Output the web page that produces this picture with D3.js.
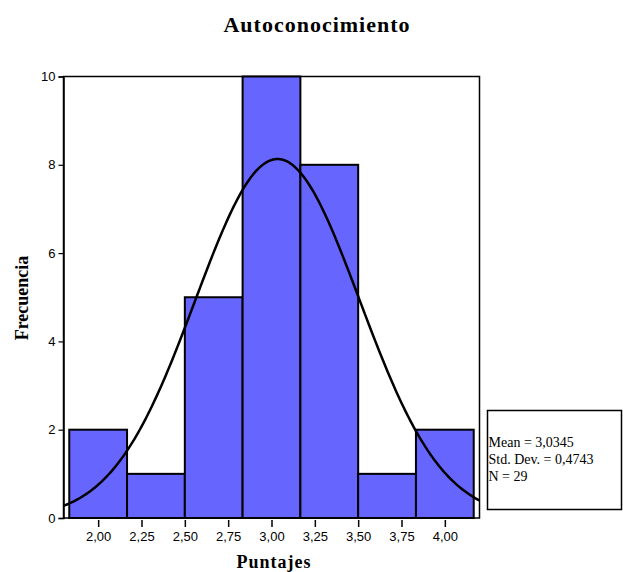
<!DOCTYPE html>
<html>
<head>
<meta charset="utf-8">
<script src="https://cdn.jsdelivr.net/npm/d3@7"></script>
<style>
  body { margin: 0; background: #fff; }
  svg { display: block; }
</style>
</head>
<body>
<div id="chart"></div>
<script>
// histogram data
var binStart = [1.8333, 2.1667, 2.5, 2.8333, 3.1667, 3.5, 3.8333];
var binWidth = 1 / 3;
var counts = [2, 1, 5, 10, 8, 1, 2];
var xTicks = [2.0, 2.25, 2.5, 2.75, 3.0, 3.25, 3.5, 3.75, 4.0];
var yTicks = [0, 2, 4, 6, 8, 10];
var statLines = ["Mean = 3,0345", "Std. Dev. = 0,4743", "N = 29"];
var mean = 3.0345, sd = 0.4743, n = 29;

var width = 623, height = 572;
var plotLeft = 63.5, plotRight = 479.5, plotTop = 76.5, plotBottom = 518;

var locale = d3.formatLocale({decimal: ",", thousands: ".", grouping: [3], currency: ["", ""]});
var fmt = locale.format(".2f");

var svg = d3.select("#chart").append("svg")
    .attr("width", width)
    .attr("height", height);

var xScale = d3.scaleLinear().domain([1.8, 4.2]).range([plotLeft, plotRight]);
var yScale = d3.scaleLinear().domain([0, 10]).range([plotBottom, plotTop]);

// plot frame
svg.append("rect")
    .attr("x", plotLeft).attr("y", plotTop)
    .attr("width", plotRight - plotLeft).attr("height", plotBottom - plotTop)
    .attr("fill", "#fff")
    .attr("stroke", "#000")
    .attr("stroke-width", 1.5);

// bars
svg.selectAll("rect.bar")
    .data(counts)
    .enter().append("rect")
    .attr("class", "bar")
    .attr("x", function(d, i) { return xScale(binStart[i]); })
    .attr("y", function(d) { return yScale(d); })
    .attr("width", function(d, i) { return xScale(binStart[i] + binWidth) - xScale(binStart[i]); })
    .attr("height", function(d) { return plotBottom - yScale(d); })
    .attr("fill", "#6666ff")
    .attr("stroke", "#000")
    .attr("stroke-width", 2);

// fitted normal curve from the stats in the legend
var curve = d3.range(1.8, 4.2001, 0.01).map(function(x) {
    var z = (x - mean) / sd;
    return [x, n * binWidth / (sd * Math.sqrt(2 * Math.PI)) * Math.exp(-0.5 * z * z)];
});
svg.append("path")
    .datum(curve)
    .attr("fill", "none")
    .attr("stroke", "#000")
    .attr("stroke-width", 2.5)
    .attr("d", d3.line()
        .x(function(d) { return xScale(d[0]); })
        .y(function(d) { return yScale(d[1]); }));

// axes
var yAxis = d3.axisLeft(yScale).tickValues(yTicks).tickSize(5).tickPadding(3).tickFormat(d3.format("d"));
var gy = svg.append("g")
    .attr("transform", "translate(" + plotLeft + ",0)")
    .call(yAxis);
gy.select(".domain").attr("stroke-width", 1.5);

var xAxis = d3.axisBottom(xScale).tickValues(xTicks).tickSize(7).tickPadding(5).tickFormat(fmt);
var gx = svg.append("g")
    .attr("transform", "translate(0," + (plotBottom + 2) + ")")
    .call(xAxis);
gx.select(".domain").remove();
gx.selectAll(".tick line").attr("stroke-width", 1.5);

svg.selectAll(".tick text")
    .attr("font-family", "Liberation Sans, Arial, sans-serif")
    .attr("font-size", 13)
    .attr("fill", "#000");
gy.selectAll(".tick line").attr("stroke-width", 1.2);

// titles
svg.append("text")
    .attr("x", 317).attr("y", 32)
    .attr("text-anchor", "middle")
    .attr("font-family", "Liberation Serif, Times New Roman, serif")
    .attr("font-weight", "bold")
    .attr("font-size", 22)
    .attr("letter-spacing", 1)
    .text("Autoconocimiento");

svg.append("text")
    .attr("x", 274).attr("y", 568)
    .attr("text-anchor", "middle")
    .attr("font-family", "Liberation Serif, Times New Roman, serif")
    .attr("font-weight", "bold")
    .attr("font-size", 18)
    .attr("letter-spacing", 1)
    .text("Puntajes");

svg.append("text")
    .attr("transform", "translate(28,298) rotate(-90)")
    .attr("text-anchor", "middle")
    .attr("font-family", "Liberation Serif, Times New Roman, serif")
    .attr("font-weight", "bold")
    .attr("font-size", 18)
    .text("Frecuencia");

// stats box
svg.append("rect")
    .attr("x", 487.5).attr("y", 410.5)
    .attr("width", 134).attr("height", 99)
    .attr("fill", "#fff")
    .attr("stroke", "#000")
    .attr("stroke-width", 1.5);

svg.selectAll("text.stat")
    .data(statLines)
    .enter().append("text")
    .attr("class", "stat")
    .attr("x", 488.5)
    .attr("y", function(d, i) { return 447 + i * 17; })
    .attr("font-family", "Liberation Serif, Times New Roman, serif")
    .attr("font-size", 14)
    .text(function(d) { return d; });
</script>
</body>
</html>
